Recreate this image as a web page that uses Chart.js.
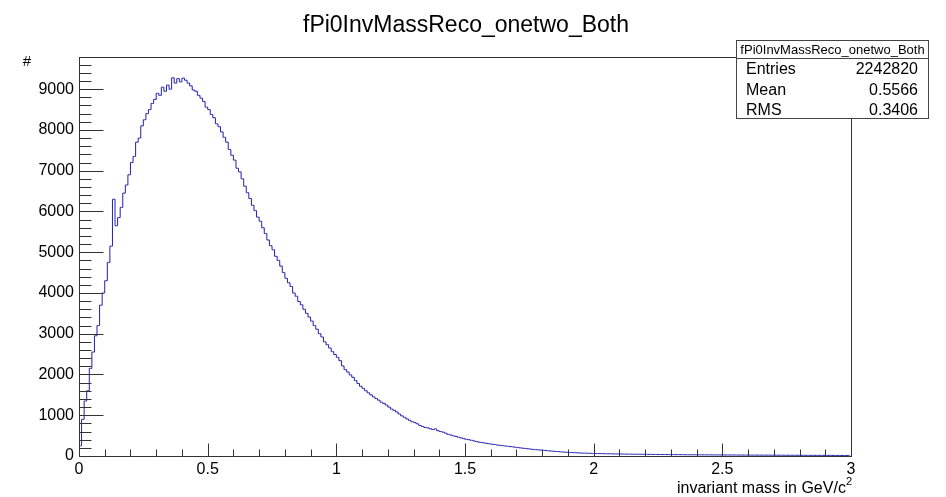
<!DOCTYPE html>
<html>
<head>
<meta charset="utf-8">
<script src="https://cdn.jsdelivr.net/npm/chart.js@4/dist/chart.umd.min.js"></script>
<style>
  body { margin: 0; background: #fff; }
  canvas { display: block; }
</style>
</head>
<body>
<canvas id="chart" width="946" height="497"></canvas>
<script>
// histogram bins: 0 .. 3 GeV, 0.01 wide
const binWidth = 0.01;
const counts = [
  250, 900, 1350, 1600, 2150, 2550, 2950, 3200, 3700, 4000,
  4300, 4750, 5150, 6300, 5650, 5850, 6100, 6450, 6650, 6900,
  7200, 7350, 7700, 7800, 8100, 8250, 8400, 8500, 8650, 8750,
  8900, 8850, 9050, 8950, 9100, 9000, 9280, 9150, 9260, 9180,
  9270, 9220, 9150, 9080, 8980, 8950, 8850, 8780, 8700, 8560,
  8500, 8380, 8300, 8150, 8080, 7950, 7820, 7700, 7520, 7380,
  7260, 7060, 6970, 6800, 6620, 6460, 6320, 6150, 6020, 5860,
  5760, 5600, 5460, 5300, 5160, 5060, 4900, 4800, 4660, 4500,
  4360, 4250, 4160, 4000, 3920, 3790, 3710, 3600, 3500, 3410,
  3310, 3200, 3110, 3000, 2920, 2800, 2730, 2650, 2560, 2490,
  2420, 2340, 2210, 2120, 2060, 1990, 1930, 1850, 1780, 1710,
  1660, 1600, 1550, 1500, 1450, 1410, 1370, 1320, 1290, 1250,
  1200, 1150, 1120, 1080, 1030, 985, 950, 910, 875, 840,
  820, 790, 750, 725, 700, 690, 670, 650, 665, 620,
  600, 585, 560, 530, 515, 495, 480, 460, 445, 425,
  410, 400, 385, 370, 355, 340, 330, 320, 310, 300,
  290, 282, 270, 262, 255, 246, 240, 232, 224, 216,
  206, 200, 192, 185, 176, 170, 162, 156, 150, 145,
  140, 134, 127, 121, 116, 110, 106, 101, 96, 91,
  88, 85, 81, 78, 75, 72, 70, 68, 66, 64,
  62, 61, 59, 58, 56, 55, 54, 53, 52, 50,
  49, 48, 47, 46, 45, 44, 43, 43, 42, 41,
  40, 40, 39, 38, 38, 37, 36, 36, 35, 35,
  34, 34, 33, 33, 32, 32, 31, 31, 30, 30,
  29, 29, 29, 28, 28, 28, 27, 27, 26, 26,
  26, 25, 25, 25, 24, 24, 24, 23, 23, 23,
  22, 22, 22, 21, 21, 21, 21, 20, 20, 20,
  19, 19, 19, 19, 18, 18, 18, 18, 17, 17,
  17, 17, 16, 16, 16, 16, 16, 15, 15, 15,
  15, 15, 14, 14, 14, 14, 13, 13, 13, 13
];

const xTicks = [0, 0.5, 1, 1.5, 2, 2.5, 3];
const yTicks = [0, 1000, 2000, 3000, 4000, 5000, 6000, 7000, 8000, 9000];

const histTitle = 'fPi0InvMassReco_onetwo_Both';
const xTitle = 'invariant mass in GeV/c';
const yTitle = '#';
const statNames = ['Entries', 'Mean', 'RMS'];
const statValues = ['2242820', '0.5566', '0.3406'];

const FONT = '"Liberation Sans", Arial, Helvetica, sans-serif';

const points = counts.map((c, i) => ({ x: (i + 0.5) * binWidth, y: c }));

// ROOT-like decorations: frame, inner ticks, titles, stats box
const rootStyle = {
  id: 'rootStyle',
  afterDraw(chart) {
    const { ctx, chartArea: a, scales } = chart;
    const x = scales.x, y = scales.y;
    const L = Math.round(a.left) + 0.5, R = Math.round(a.right) + 0.5;
    const T = Math.round(a.top) + 0.5, B = Math.round(a.bottom) + 0.5;
    ctx.save();
    ctx.strokeStyle = '#333';
    ctx.lineWidth = 1;
    ctx.strokeRect(L, T, R - L, B - T);

    ctx.beginPath();
    for (let v = 0; v <= 9600; v += 200) {
      const py = Math.round(y.getPixelForValue(v)) + 0.5;
      const len = v % 1000 === 0 ? 24 : 12;
      ctx.moveTo(L, py);
      ctx.lineTo(L + len, py);
    }
    for (let k = 0; k <= 30; k++) {
      const px = Math.round(x.getPixelForValue(k / 10)) + 0.5;
      const len = k % 5 === 0 ? 13 : 7;
      ctx.moveTo(px, B);
      ctx.lineTo(px, B - len);
    }
    ctx.stroke();

    ctx.fillStyle = '#000';
    ctx.textBaseline = 'middle';
    ctx.textAlign = 'center';
    ctx.font = '23px ' + FONT;
    ctx.fillText(histTitle, 466, 26);

    ctx.font = '15px ' + FONT;
    ctx.fillText(yTitle, 27, 62);

    // axis title with superscript
    ctx.textBaseline = 'alphabetic';
    ctx.font = '11px ' + FONT;
    const supW = ctx.measureText('2').width;
    ctx.textAlign = 'left';
    ctx.fillText('2', 852 - supW, 485);
    ctx.font = '16px ' + FONT;
    ctx.textAlign = 'right';
    ctx.fillText(xTitle, 852 - supW, 493);

    // stats box
    const bx = 736.5, by = 40.5, bw = 192, bh = 78;
    ctx.fillStyle = '#fff';
    ctx.fillRect(bx, by, bw, bh);
    ctx.strokeStyle = '#444';
    ctx.strokeRect(bx, by, bw, bh);
    ctx.beginPath();
    ctx.moveTo(bx, 58.5);
    ctx.lineTo(bx + bw, 58.5);
    ctx.stroke();
    ctx.fillStyle = '#000';
    ctx.textBaseline = 'middle';
    ctx.textAlign = 'center';
    ctx.font = '13px ' + FONT;
    ctx.fillText(histTitle, bx + bw / 2, 50);
    ctx.font = '16px ' + FONT;
    const rows = [70, 91, 111];
    statNames.forEach((n, i) => {
      ctx.textAlign = 'left';
      ctx.fillText(n, 746, rows[i]);
      ctx.textAlign = 'right';
      ctx.fillText(statValues[i], 918, rows[i]);
    });
    ctx.restore();
  }
};

const chart = new Chart(document.getElementById('chart').getContext('2d'), {
  type: 'line',
  data: {
    datasets: [{
      data: points,
      borderColor: 'rgb(32, 32, 176)',
      borderWidth: 1,
      pointRadius: 0,
      stepped: 'middle',
      fill: false
    }]
  },
  options: {
    responsive: false,
    animation: false,
    devicePixelRatio: 1,
    layout: { padding: { top: 57, right: 95, left: 0, bottom: 0 } },
    plugins: { legend: { display: false }, title: { display: false }, tooltip: { enabled: false } },
    scales: {
      x: {
        type: 'linear',
        min: 0,
        max: 3,
        grid: { display: false, drawTicks: false },
        border: { display: false },
        afterBuildTicks: s => { s.ticks = xTicks.map(v => ({ value: v })); },
        ticks: {
          padding: 4,
          color: '#000',
          font: { size: 16, family: FONT },
          maxRotation: 0,
          autoSkip: false,
          callback: v => String(v)
        },
        afterFit: s => { s.height = 41; }
      },
      y: {
        type: 'linear',
        min: 0,
        max: 9790,
        grid: { display: false, drawTicks: false },
        border: { display: false },
        afterBuildTicks: s => { s.ticks = yTicks.map(v => ({ value: v })); },
        ticks: {
          padding: 5,
          color: '#000',
          font: { size: 16, family: FONT },
          autoSkip: false,
          callback: v => String(v)
        },
        afterFit: s => { s.width = 79; }
      }
    }
  },
  plugins: [rootStyle]
});
</script>
</body>
</html>
